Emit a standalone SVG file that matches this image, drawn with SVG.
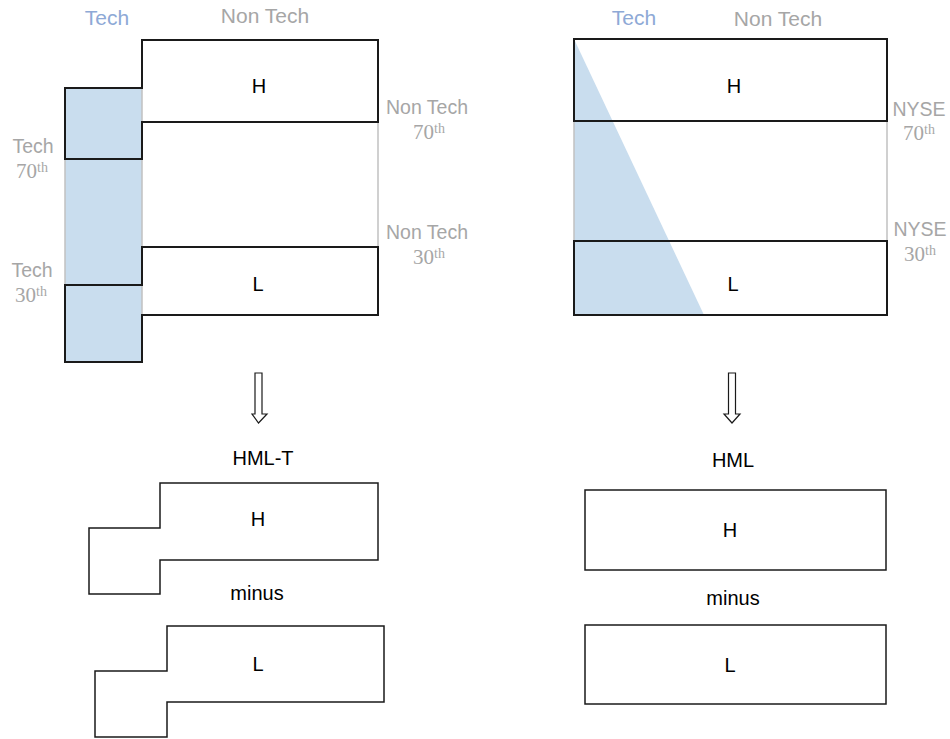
<svg xmlns="http://www.w3.org/2000/svg" width="950" height="739" viewBox="0 0 950 739">
<style>
.sans{font-family:"Liberation Sans",Arial,sans-serif;}
.ser{font-family:"Liberation Serif","Times New Roman",serif;}
.blk{fill:#000;font-size:20px;text-anchor:middle;}
.big{fill:#000;font-size:20px;text-anchor:middle;}
.tech{fill:#8ea9d6;font-size:21px;text-anchor:middle;}
.gtop{fill:#a6a6a6;font-size:21px;text-anchor:middle;}
.gs{fill:#a6a6a6;font-size:19.5px;text-anchor:middle;}
.num{fill:#a6a6a6;font-size:21px;text-anchor:middle;}
.sup{font-size:14px;}
.out{fill:none;stroke:#1a1a1a;stroke-width:2;stroke-linejoin:miter;}
.thin{fill:none;stroke:#1a1a1a;stroke-width:1.5;}
.grey{fill:none;stroke:#c0c0c0;stroke-width:1.5;}
.blue{fill:#c9ddee;stroke:none;}
.arrow{fill:#fff;stroke:#1a1a1a;stroke-width:1.2;}
</style>

<g id="left-top">
  <rect class="blue" x="65" y="88" width="77" height="274"/>
  <line class="grey" x1="65" y1="159" x2="65" y2="285"/>
  <line class="grey" x1="142" y1="88" x2="142" y2="362"/>
  <line class="grey" x1="378" y1="122" x2="378" y2="247"/>
  <polygon id="left-H" class="out" points="65,88 142,88 142,40 378,40 378,122 142,122 142,159 65,159"/>
  <polygon id="left-L" class="out" points="142,247 378,247 378,315 142,315 142,362 65,362 65,285 142,285"/>
  <text class="sans blk" x="259" y="93">H</text>
  <text class="sans blk" x="258" y="291">L</text>
  <text class="sans tech" x="107" y="25">Tech</text>
  <text class="sans gtop" x="265" y="23">Non Tech</text>
  <text class="sans gs" x="427" y="114">Non Tech</text>
  <text class="ser num" x="429" y="139">70<tspan class="sup" dy="-6">th</tspan></text>
  <text class="sans gs" x="427" y="239">Non Tech</text>
  <text class="ser num" x="429" y="264">30<tspan class="sup" dy="-6">th</tspan></text>
  <text class="sans gs" x="33" y="153">Tech</text>
  <text class="ser num" x="32" y="178">70<tspan class="sup" dy="-6">th</tspan></text>
  <text class="sans gs" x="32" y="277">Tech</text>
  <text class="ser num" x="31" y="302">30<tspan class="sup" dy="-6">th</tspan></text>
</g>

<g id="right-top">
  <polygon class="blue" points="574,39 704,315 574,315"/>
  <line class="grey" x1="574" y1="121" x2="574" y2="241"/>
  <line class="grey" x1="887" y1="121" x2="887" y2="241"/>
  <rect id="right-H" class="out" x="574" y="39" width="313" height="82"/>
  <rect id="right-L" class="out" x="574" y="241" width="313" height="74"/>
  <text class="sans blk" x="734" y="93">H</text>
  <text class="sans blk" x="733" y="291">L</text>
  <text class="sans tech" x="634" y="25">Tech</text>
  <text class="sans gtop" x="778" y="26">Non Tech</text>
  <text class="sans gs" x="919" y="116">NYSE</text>
  <text class="ser num" x="919" y="140">70<tspan class="sup" dy="-6">th</tspan></text>
  <text class="sans gs" x="920" y="236">NYSE</text>
  <text class="ser num" x="920" y="261">30<tspan class="sup" dy="-6">th</tspan></text>
</g>

<g id="connectors">
  <polygon class="arrow" points="255,373 262,373 262,414 267,414 258.5,423 252,414 255,414"/>
  <polygon class="arrow" points="728.5,373 735.5,373 735.5,414 740,414 732,423 724,414 728.5,414"/>
</g>

<g id="left-bottom">
  <text class="sans big" x="263" y="465">HML-T</text>
  <polygon id="hmlt-H" class="thin" points="89,528 160,528 160,483 378,483 378,560 160,560 160,594 89,594"/>
  <text class="sans blk" x="258" y="526">H</text>
  <text class="sans big" x="257" y="600">minus</text>
  <polygon id="hmlt-L" class="thin" points="95,671 167,671 167,626 384,626 384,702 167,702 167,737 95,737"/>
  <text class="sans blk" x="258" y="671">L</text>
</g>

<g id="right-bottom">
  <text class="sans big" x="733" y="467">HML</text>
  <rect id="hml-H" class="thin" x="585" y="490" width="301" height="80"/>
  <text class="sans blk" x="730" y="537">H</text>
  <text class="sans big" x="733" y="605">minus</text>
  <rect id="hml-L" class="thin" x="585" y="625" width="301" height="79"/>
  <text class="sans blk" x="730" y="672">L</text>
</g>
</svg>
